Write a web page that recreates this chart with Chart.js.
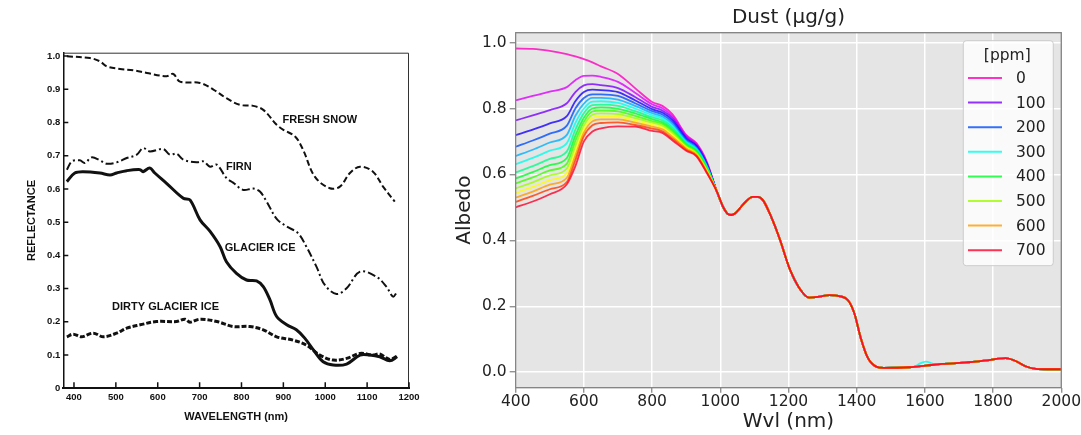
<!DOCTYPE html>
<html>
<head>
<meta charset="utf-8">
<script src="https://cdn.jsdelivr.net/npm/chart.js@4.4.0/dist/chart.umd.min.js"></script>
<style>
  html, body { margin: 0; padding: 0; background: #fff; }
  #wrap { position: relative; width: 1081px; height: 435px; }
  #leftBox { position: absolute; left: 0; top: 0; width: 430px; height: 435px; }
  #rightBox { position: absolute; left: 440px; top: 0; width: 641px; height: 435px; }
</style>
</head>
<body>
<div id="wrap">
  <div id="leftBox"><canvas id="scanChart"></canvas></div>
  <div id="rightBox"><canvas id="dustChart"></canvas></div>
</div>
<script>
// ---- left panel: reflectance of snow and ice ----
const snowWvl = [383, 438, 462, 478, 510, 542, 574, 621, 637, 653, 701, 733, 764, 796, 828, 852, 884, 900, 928, 947, 975, 1011, 1035, 1059, 1083, 1114, 1138, 1166];
const snowRefl = [0.999, 0.994, 0.984, 0.969, 0.961, 0.957, 0.949, 0.939, 0.946, 0.923, 0.919, 0.899, 0.873, 0.853, 0.850, 0.838, 0.793, 0.778, 0.758, 0.718, 0.637, 0.602, 0.607, 0.648, 0.667, 0.652, 0.607, 0.562];

const firnWvl = [383, 395, 414, 426, 442, 462, 478, 502, 526, 550, 565, 581, 613, 629, 645, 661, 693, 709, 725, 741, 764, 780, 804, 828, 844, 860, 884, 908, 935, 955, 979, 999, 1027, 1051, 1083, 1122, 1146, 1162, 1172];
const firnRefl = [0.658, 0.683, 0.686, 0.678, 0.695, 0.686, 0.676, 0.680, 0.693, 0.703, 0.723, 0.713, 0.720, 0.703, 0.706, 0.688, 0.680, 0.683, 0.667, 0.673, 0.633, 0.619, 0.597, 0.601, 0.592, 0.562, 0.510, 0.487, 0.467, 0.426, 0.366, 0.311, 0.284, 0.301, 0.351, 0.336, 0.306, 0.276, 0.291];

const iceWvl = [383, 402, 422, 462, 486, 502, 526, 558, 565, 581, 593, 621, 661, 677, 701, 725, 749, 764, 788, 812, 836, 852, 868, 884, 908, 931, 951, 975, 995, 1019, 1051, 1083, 1106, 1130, 1154, 1172];
const iceRefl = [0.622, 0.648, 0.652, 0.648, 0.642, 0.648, 0.655, 0.658, 0.652, 0.663, 0.648, 0.617, 0.572, 0.567, 0.507, 0.472, 0.426, 0.381, 0.346, 0.326, 0.323, 0.306, 0.266, 0.216, 0.191, 0.176, 0.151, 0.110, 0.080, 0.070, 0.073, 0.100, 0.100, 0.095, 0.083, 0.095];

const dirtyWvl = [383, 398, 418, 446, 470, 502, 526, 558, 597, 645, 665, 677, 701, 741, 780, 820, 852, 884, 923, 955, 987, 1019, 1051, 1083, 1114, 1130, 1154, 1172];
const dirtyRefl = [0.155, 0.163, 0.155, 0.166, 0.155, 0.166, 0.181, 0.191, 0.201, 0.201, 0.208, 0.199, 0.208, 0.201, 0.186, 0.186, 0.176, 0.155, 0.145, 0.130, 0.100, 0.085, 0.090, 0.105, 0.100, 0.103, 0.087, 0.097];

const scanXTicks = [400, 500, 600, 700, 800, 900, 1000, 1100, 1200];
const scanYTicks = [0, 0.1, 0.2, 0.3, 0.4, 0.5, 0.6, 0.7, 0.8, 0.9, 1.0];

// ---- right panel: albedo for dust concentrations ----
const ppmLevels = [0, 50, 100, 150, 200, 250, 300, 350, 400, 450, 500, 550, 600, 650, 700];
const legendPpm = [0, 100, 200, 300, 400, 500, 600, 700];

const headWvl = [400, 450, 500, 550, 575, 600, 625, 650, 700, 750, 800, 830, 860, 900, 930, 960];
const headAlbedo = [
  [0.982, 0.981, 0.975, 0.965, 0.958, 0.950, 0.940, 0.928, 0.905, 0.862, 0.820, 0.808, 0.782, 0.720, 0.695, 0.640],
  [0.825, 0.838, 0.851, 0.865, 0.886, 0.899, 0.900, 0.896, 0.881, 0.848, 0.813, 0.801, 0.776, 0.717, 0.692, 0.637],
  [0.764, 0.779, 0.795, 0.816, 0.850, 0.870, 0.874, 0.871, 0.862, 0.835, 0.805, 0.794, 0.770, 0.713, 0.689, 0.635],
  [0.719, 0.736, 0.755, 0.777, 0.822, 0.850, 0.857, 0.856, 0.850, 0.825, 0.798, 0.788, 0.764, 0.709, 0.686, 0.632],
  [0.684, 0.703, 0.724, 0.748, 0.800, 0.832, 0.843, 0.843, 0.838, 0.816, 0.792, 0.782, 0.758, 0.705, 0.683, 0.630],
  [0.656, 0.675, 0.697, 0.720, 0.778, 0.815, 0.832, 0.832, 0.827, 0.808, 0.786, 0.776, 0.752, 0.702, 0.680, 0.627],
  [0.631, 0.650, 0.672, 0.695, 0.756, 0.800, 0.821, 0.822, 0.817, 0.800, 0.780, 0.770, 0.746, 0.698, 0.677, 0.625],
  [0.606, 0.625, 0.647, 0.670, 0.736, 0.786, 0.810, 0.812, 0.808, 0.792, 0.774, 0.764, 0.741, 0.695, 0.674, 0.622],
  [0.588, 0.607, 0.628, 0.650, 0.718, 0.772, 0.800, 0.803, 0.799, 0.785, 0.768, 0.758, 0.735, 0.691, 0.671, 0.620],
  [0.573, 0.591, 0.612, 0.633, 0.702, 0.760, 0.791, 0.794, 0.791, 0.778, 0.762, 0.753, 0.730, 0.688, 0.668, 0.617],
  [0.558, 0.576, 0.597, 0.618, 0.686, 0.748, 0.781, 0.785, 0.783, 0.771, 0.757, 0.748, 0.725, 0.685, 0.665, 0.615],
  [0.544, 0.562, 0.583, 0.604, 0.671, 0.737, 0.771, 0.776, 0.775, 0.764, 0.751, 0.742, 0.719, 0.682, 0.662, 0.612],
  [0.530, 0.548, 0.569, 0.590, 0.657, 0.727, 0.761, 0.767, 0.767, 0.757, 0.745, 0.737, 0.714, 0.679, 0.660, 0.610],
  [0.517, 0.535, 0.555, 0.577, 0.643, 0.716, 0.749, 0.756, 0.758, 0.750, 0.739, 0.731, 0.708, 0.675, 0.657, 0.607],
  [0.500, 0.518, 0.540, 0.570, 0.625, 0.700, 0.730, 0.740, 0.746, 0.745, 0.732, 0.726, 0.703, 0.672, 0.655, 0.605]
];

// beyond ~1000 nm the curves sit on top of each other
const tailWvl = [990, 1008, 1020, 1032, 1045, 1057, 1075, 1095, 1110, 1125, 1149, 1174, 1203, 1232, 1261, 1291, 1320, 1349, 1374, 1393, 1413, 1432, 1457, 1480, 1554, 1603, 1650, 1715, 1774, 1837, 1866, 1895, 1925, 1960, 2000];
const tailAlbedo = [0.548, 0.502, 0.482, 0.477, 0.483, 0.497, 0.518, 0.532, 0.532, 0.522, 0.472, 0.405, 0.315, 0.255, 0.226, 0.229, 0.234, 0.231, 0.219, 0.179, 0.100, 0.045, 0.017, 0.013, 0.015, 0.020, 0.025, 0.029, 0.035, 0.043, 0.034, 0.018, 0.010, 0.009, 0.009];

// small bump only seen on the 300 ppm curve
const bump300Wvl = [1570, 1586, 1603, 1620, 1635];
const bump300Albedo = [0.017, 0.027, 0.032, 0.027, 0.022];

const dustXTicks = [400, 600, 800, 1000, 1200, 1400, 1600, 1800, 2000];
const dustYTicks = [0, 0.2, 0.4, 0.6, 0.8, 1.0];

// gist_rainbow, reversed
const lineColors = ['#ff00bf', '#dc00ff', '#7900ff', '#1600ff', '#004dff', '#00b0ff', '#00ffeb', '#00ff89',
                    '#00ff27', '#3bff00', '#9eff00', '#fffe00', '#ff9b00', '#ff3900', '#ff0029'];

function toXY(xs, ys) {
  return xs.map((x, i) => ({ x: x, y: ys[i] }));
}

function withAlpha(hex, a) {
  const n = parseInt(hex.slice(1), 16);
  return `rgba(${(n >> 16) & 255}, ${(n >> 8) & 255}, ${n & 255}, ${a})`;
}

// ================= left chart =================
const scanFrame = {
  id: "scanFrame",
  afterDraw(chart) {
    const { ctx, chartArea: a, scales } = chart;
    ctx.save();
    ctx.strokeStyle = "#333";
    ctx.lineWidth = 1;
    ctx.beginPath();
    ctx.moveTo(a.left, a.top + 0.5);
    ctx.lineTo(a.right - 0.5, a.top + 0.5);
    ctx.lineTo(a.right - 0.5, a.bottom);
    ctx.stroke();

    // inward tick marks
    ctx.strokeStyle = "#111";
    ctx.lineWidth = 1.5;
    ctx.beginPath();
    scales.y.ticks.forEach(t => {
      const y = scales.y.getPixelForValue(t.value);
      ctx.moveTo(a.left, y);
      ctx.lineTo(a.left + 5, y);
    });
    scales.x.ticks.forEach(t => {
      const x = scales.x.getPixelForValue(t.value);
      ctx.moveTo(x, a.bottom);
      ctx.lineTo(x, a.bottom - 6);
    });
    ctx.stroke();

    // curve names
    ctx.fillStyle = "#111";
    ctx.font = "bold 11px 'Liberation Sans', Arial, sans-serif";
    ctx.textAlign = "left";
    ctx.textBaseline = "middle";
    const names = [["FRESH SNOW", 898, 0.808], ["FIRN", 763, 0.667], ["GLACIER ICE", 760, 0.422], ["DIRTY GLACIER ICE", 491, 0.246]];
    names.forEach(n => {
      ctx.fillText(n[0], scales.x.getPixelForValue(n[1]), scales.y.getPixelForValue(n[2]));
    });
    ctx.restore();
  }
};

const scanFont = { family: "'Liberation Sans', Arial, sans-serif", weight: "bold" };

new Chart(document.getElementById("scanChart"), {
  type: "line",
  data: {
    datasets: [
      { label: "FRESH SNOW", data: toXY(snowWvl, snowRefl), borderColor: "#111", borderWidth: 2, borderDash: [6, 3] },
      { label: "FIRN", data: toXY(firnWvl, firnRefl), borderColor: "#111", borderWidth: 2, borderDash: [8, 3, 2, 3] },
      { label: "GLACIER ICE", data: toXY(iceWvl, iceRefl), borderColor: "#111", borderWidth: 3 },
      { label: "DIRTY GLACIER ICE", data: toXY(dirtyWvl, dirtyRefl), borderColor: "#111", borderWidth: 3, borderDash: [5, 2] }
    ]
  },
  options: {
    responsive: true,
    maintainAspectRatio: false,
    animation: false,
    events: [],
    layout: { padding: { left: 0, right: 21, top: 52.7, bottom: 0 } },
    elements: { point: { radius: 0 }, line: { tension: 0.35 } },
    plugins: { legend: { display: false }, tooltip: { enabled: false } },
    scales: {
      x: {
        type: "linear",
        min: 374.5,
        max: 1200,
        afterBuildTicks: s => { s.ticks = scanXTicks.map(v => ({ value: v })); },
        afterFit: s => { s.height = 46.7; },
        grid: { display: false, drawTicks: false },
        border: { display: true, color: "#111", width: 2 },
        ticks: { padding: 3, color: "#111", font: { ...scanFont, size: 9.5 }, callback: v => String(v), maxRotation: 0 },
        title: { display: true, text: "WAVELENGTH (nm)", color: "#111", font: { ...scanFont, size: 11 }, padding: { top: 0, bottom: 11.7 } }
      },
      y: {
        min: 0,
        max: 1.01,
        afterBuildTicks: s => { s.ticks = scanYTicks.map(v => ({ value: v })); },
        afterFit: s => { s.width = 63.3; },
        grid: { display: false, drawTicks: false },
        border: { display: true, color: "#111", width: 1.5 },
        ticks: { padding: 3, color: "#111", font: { ...scanFont, size: 9.5 }, callback: v => (v === 0 ? "0" : v.toFixed(1)) },
        title: { display: true, text: "REFLECTANCE", color: "#111", font: { ...scanFont, size: 11 }, padding: { top: 25.4, bottom: 0 } }
      }
    }
  },
  plugins: [scanFrame]
});

// ================= right chart =================
const dustDatasets = ppmLevels.map((ppm, i) => {
  let pts = toXY(headWvl, headAlbedo[i]).concat(toXY(tailWvl, tailAlbedo));
  if (ppm === 300) {
    pts = pts.filter(p => p.x < 1565 || p.x > 1640).concat(toXY(bump300Wvl, bump300Albedo));
    pts.sort((a, b) => a.x - b.x);
  }
  return {
    label: String(ppm),
    data: pts,
    borderColor: withAlpha(lineColors[i], 0.8),
    borderWidth: 1.8,
    order: ppmLevels.length - 1 - i
  };
});

const dustFont = "'DejaVu Sans', Verdana, sans-serif";

const dustFrame = {
  id: "dustFrame",
  beforeDraw(chart) {
    const { ctx, chartArea: a } = chart;
    ctx.save();
    ctx.fillStyle = "#e5e5e5";
    ctx.fillRect(a.left, a.top, a.right - a.left, a.bottom - a.top);
    ctx.restore();
  },
  afterDraw(chart) {
    const { ctx, chartArea: a } = chart;
    ctx.save();
    ctx.strokeStyle = "#808080";
    ctx.lineWidth = 1.3;
    ctx.strokeRect(a.left, a.top, a.right - a.left, a.bottom - a.top);

    // legend in the upper right corner
    const x0 = a.right - 98, y0 = a.top + 8, w = 90, h = 225;
    ctx.beginPath();
    ctx.roundRect(x0, y0, w, h, 3);
    ctx.fillStyle = "rgba(255, 255, 255, 0.8)";
    ctx.fill();
    ctx.strokeStyle = "#cccccc";
    ctx.lineWidth = 1;
    ctx.stroke();

    ctx.fillStyle = "#222";
    ctx.textBaseline = "middle";
    ctx.font = "15.5px " + dustFont;
    ctx.textAlign = "center";
    ctx.fillText("[ppm]", x0 + 44, y0 + 15.5);
    ctx.textAlign = "left";
    legendPpm.forEach((ppm, k) => {
      const ds = chart.data.datasets[ppmLevels.indexOf(ppm)];
      const y = y0 + 37.3 + k * 24.6;
      ctx.strokeStyle = ds.borderColor;
      ctx.lineWidth = 2;
      ctx.beginPath();
      ctx.moveTo(x0 + 4.7, y);
      ctx.lineTo(x0 + 38.7, y);
      ctx.stroke();
      ctx.fillText(ds.label, x0 + 52.7, y + 1);
    });
    ctx.restore();
  }
};

new Chart(document.getElementById("dustChart"), {
  type: "line",
  data: { datasets: dustDatasets },
  options: {
    responsive: true,
    maintainAspectRatio: false,
    animation: false,
    events: [],
    layout: { padding: { left: 0, right: 18.7, top: 0, bottom: 0 } },
    elements: { point: { radius: 0 }, line: { cubicInterpolationMode: "monotone" } },
    plugins: {
      legend: { display: false },
      tooltip: { enabled: false },
      title: {
        display: true,
        text: "Dust (μg/g)",
        fullSize: false,
        color: "#222",
        font: { family: dustFont, size: 20, weight: "normal" },
        padding: { top: 6, bottom: 2.7 }
      }
    },
    scales: {
      x: {
        type: "linear",
        min: 400,
        max: 2000,
        afterBuildTicks: s => { s.ticks = dustXTicks.map(v => ({ value: v })); },
        afterFit: s => { s.height = 47.3; },
        grid: { color: "#ffffff", lineWidth: 1.5, tickLength: 5, tickColor: "#808080", tickWidth: 1.2 },
        border: { display: false },
        ticks: { padding: 0, color: "#222", font: { family: dustFont, size: 15.5 }, callback: v => String(v), maxRotation: 0 },
        title: { display: true, text: "Wvl (nm)", color: "#222", font: { family: dustFont, size: 20 }, padding: { top: 0, bottom: 1 } }
      },
      y: {
        min: -0.047,
        max: 1.03,
        afterBuildTicks: s => { s.ticks = dustYTicks.map(v => ({ value: v })); },
        afterFit: s => { s.width = 75.7; },
        grid: { color: "#ffffff", lineWidth: 1.5, tickLength: 6, tickColor: "#808080", tickWidth: 1.2 },
        border: { display: false },
        ticks: { padding: 3, color: "#222", font: { family: dustFont, size: 15.5 }, callback: v => v.toFixed(1) },
        title: { display: true, text: "Albedo", color: "#222", font: { family: dustFont, size: 20 }, padding: { top: 13, bottom: 0 } }
      }
    }
  },
  plugins: [dustFrame]
});
</script>
</body>
</html>
